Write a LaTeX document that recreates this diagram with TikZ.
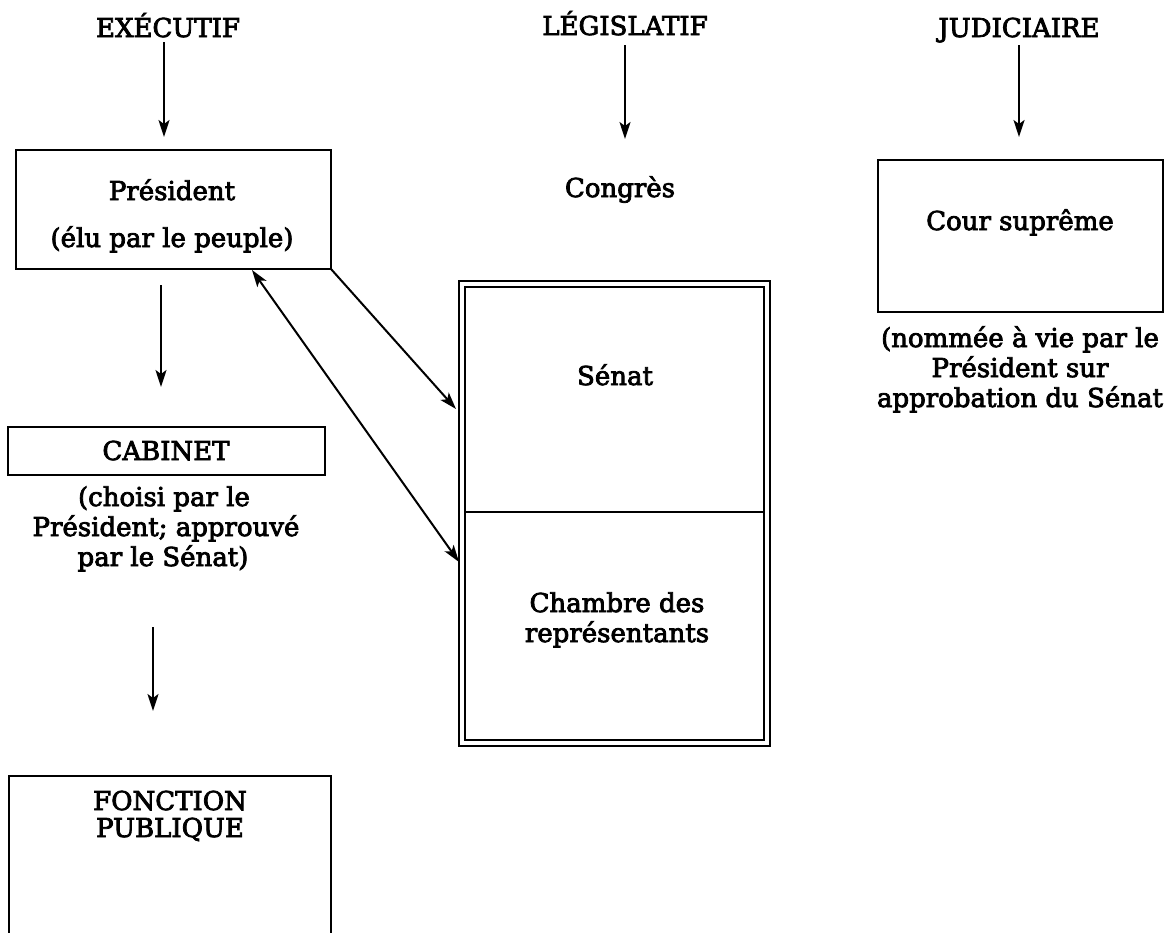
\documentclass[tikz,border=0pt]{standalone}
\usepackage{fontspec}
\setmainfont{DejaVu Serif}
\newfontfamily\diagfont[FakeBold=3]{DejaVu Serif}
\usetikzlibrary{arrows.meta}
\begin{document}
\begin{tikzpicture}[x=1pt,y=-1pt,
  txt/.style={font=\diagfont\fontsize{26}{30}\selectfont, inner sep=0pt, anchor=base},
  box/.style={draw, line width=2.5pt, inner sep=0pt, outer sep=0pt, anchor=north west},
  dbox/.style={draw, double, double distance=4pt, line width=1.8pt, inner sep=0pt, outer sep=0pt, anchor=north west},
  arr/.style={line width=2pt, -{Stealth[length=17pt,width=11pt,inset=4pt]}},
  darr/.style={line width=2pt, {Stealth[length=17pt,width=11pt,inset=4pt]}-{Stealth[length=17pt,width=11pt,inset=4pt]}},
]
\useasboundingbox (0,0) rectangle (1174,932);
\clip (0,0) rectangle (1174,932);

% headings
\node[txt] (exec) at (168,37) {EXÉCUTIF};
\node[txt] (legis) at (625,35) {LÉGISLATIF};
\node[txt] (judic) at (1019,37) {JUDICIAIRE};

% executive column
\node[box, minimum width=315pt, minimum height=119pt] (pres) at (16,150) {};
\node[txt] (prest) at (172,200) {Président};
\node[txt] (elu) at (172,247) {(élu par le peuple)};

\node[box, minimum width=317pt, minimum height=48pt] (cab) at (8,427) {};
\node[txt] (cabt) at (166,460) {CABINET};
\node[txt] (cab1) at (164,506) {(choisi par le};
\node[txt] (cab2) at (166,536) {Président; approuvé};
\node[txt] (cab3) at (163,566) {par le Sénat)};

\node[box, minimum width=322pt, minimum height=200pt] (fonc) at (9,776) {};
\node[txt] (fonc1) at (170,810) {FONCTION};
\node[txt] (fonc2) at (170,837) {PUBLIQUE};

% legislative column
\node[txt] (congres) at (620,197) {Congrès};
\node[dbox, minimum width=305pt, minimum height=459pt] (cong) at (462,284) {};
\coordinate (divl) at (465,512);
\coordinate (divr) at (764,512);
\draw[line width=2.2pt] (divl) -- (divr);
\node[txt] (senat) at (615,385) {Sénat};
\node[txt] (ch1) at (617,612) {Chambre des};
\node[txt] (ch2) at (617,642) {représentants};

% judicial column
\node[box, minimum width=285pt, minimum height=152pt] (cour) at (878,160) {};
\node[txt] (courtxt) at (1020,230) {Cour suprême};
\node[txt] (nom1) at (1020,347) {(nommée à vie par le};
\node[txt] (nom2) at (1020,377) {Président sur};
\node[txt] (nom3) at (1020,407) {approbation du Sénat};

% arrow end points
\coordinate (ea) at (164,42);  \coordinate (eb) at (164,137);
\coordinate (la) at (625,45);  \coordinate (lb) at (625,139);
\coordinate (ja) at (1019,45); \coordinate (jb) at (1019,137);
\coordinate (pa) at (161,285); \coordinate (pb) at (161,387);
\coordinate (ca) at (153,627); \coordinate (cb) at (153,711);
\coordinate (sa) at (456,409);
\coordinate (da) at (252,270); \coordinate (db) at (459,562);

\draw[arr] (ea) -- (eb);
\draw[arr] (la) -- (lb);
\draw[arr] (ja) -- (jb);
\draw[arr] (pa) -- (pb);
\draw[arr] (ca) -- (cb);
\draw[arr] (pres.south east) -- (sa);
\draw[darr] (da) -- (db);
\end{tikzpicture}
\end{document}
